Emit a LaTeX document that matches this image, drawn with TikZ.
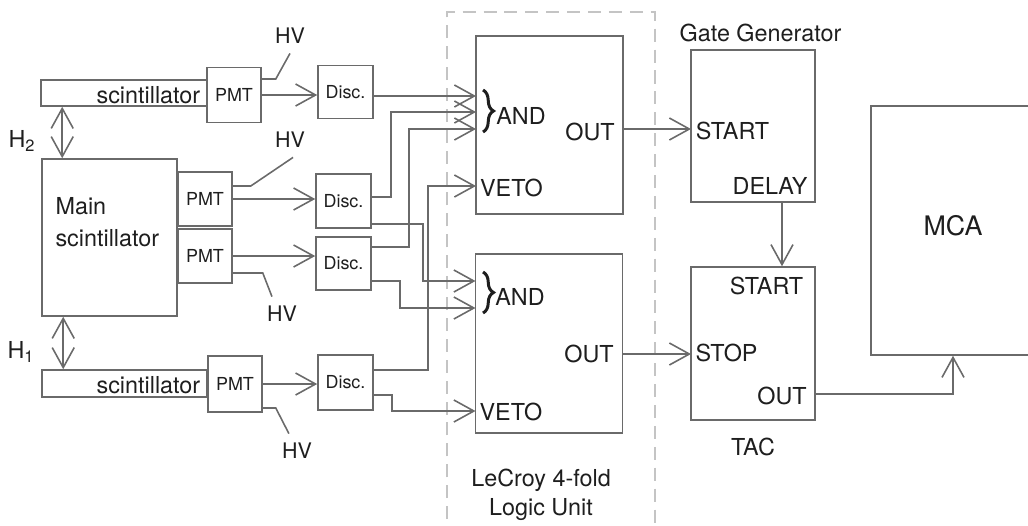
\documentclass[tikz,border=0pt]{standalone}
\usepackage{fontspec}
\setsansfont{TeX Gyre Heros}
\usetikzlibrary{arrows.meta, decorations.pathreplacing}
\definecolor{cline}{HTML}{6A6A6A}
\definecolor{ctext}{HTML}{1E1E1E}
\definecolor{cdash}{HTML}{C4C4C4}
\tikzset{
  every picture/.style={font=\sffamily, line width=0.9pt},
  unit/.style={draw=cline, text=ctext, inner sep=0pt, font=\sffamily\fontsize{10.2}{12}\selectfont},
  lbl/.style={text=ctext, inner sep=1pt, font=\sffamily\fontsize{13.3}{18.1}\selectfont},
  hv/.style={text=ctext, inner sep=5pt, font=\sffamily\fontsize{12.2}{14}\selectfont},
  sig/.style={-{Straight Barb[length=0.4cm, width=0.44cm]}, draw=cline},
  dsig/.style={{Straight Barb[length=0.4cm, width=0.44cm]}-{Straight Barb[length=0.4cm, width=0.44cm]}, draw=cline},
  wire/.style={draw=cline},
  andbrace/.style={decorate, decoration={brace, amplitude=0.21cm}, draw=ctext, line width=1.7pt},
  dashbox/.style={draw=cdash, dash pattern=on 7.4pt off 4.5pt},
}

\begin{document}
\begin{tikzpicture}[x=0.02cm, y=-0.02cm]
  \useasboundingbox (0,0) rectangle (1028,525);
  \clip (0,0) rectangle (1028,525);
  % upper scintillator
  \node[unit, minimum width=3.32cm, minimum height=0.52cm] (scinT) at (124,93) {};
  \node[lbl, anchor=base east] (scinTl) at ([shift={(-0.1cm,0.06cm)}]scinT.south east) {scintillator};
  \node[unit, minimum width=1.08cm, minimum height=1.1cm] (pmtT) at (234,95) {PMT};
  \node[unit, minimum width=1.1cm, minimum height=1.06cm] (discT) at (345.5,92) {Disc.};
  \node[hv] (hvT) at (290,36) {HV};
  % main scintillator
  \node[unit, minimum width=2.7cm, minimum height=3.14cm] (mainSc) at (109.5,237.5) {};
  \node[lbl, anchor=north west, align=left] (mainScl) at (53,195) {Main\\scintillator};
  \node[unit, minimum width=1.08cm, minimum height=1.08cm] (pmtM1) at (205,199) {PMT};
  \node[unit, minimum width=1.08cm, minimum height=1.08cm] (pmtM2) at (205,256) {PMT};
  \node[unit, minimum width=1.1cm, minimum height=1.08cm] (discM1) at (343.5,201) {Disc.};
  \node[unit, minimum width=1.1cm, minimum height=1.06cm] (discM2) at (343.5,263.5) {Disc.};
  \node[hv] (hvM1) at (290,140) {HV};
  \node[hv] (hvM2) at (282,314) {HV};
  % lower scintillator
  \node[unit, minimum width=3.3cm, minimum height=0.54cm] (scinB) at (124.5,383.5) {};
  \node[lbl, anchor=base east] (scinBl) at ([shift={(-0.1cm,0.08cm)}]scinB.south east) {scintillator};
  \node[unit, minimum width=1.08cm, minimum height=1.12cm] (pmtB) at (235,384) {PMT};
  \node[unit, minimum width=1.1cm, minimum height=1.1cm] (discB) at (345.5,382.5) {Disc.};
  \node[hv] (hvB) at (297,451) {HV};
  \node[lbl] (h2) at (22,141) {H\textsubscript{2}};
  \node[lbl] (h1) at (21,352) {H\textsubscript{1}};

  % logic unit
  \draw[dashbox] (447,540) -- (447,12) -- (655,12) -- (655,540);
  \node[unit, minimum width=2.94cm, minimum height=3.56cm] (logicA) at (549.5,125) {};
  \node[unit, minimum width=2.94cm, minimum height=3.58cm] (logicB) at (549,343.5) {};
  \node[lbl] (andA) at (521,115.5) {AND};
  \node[lbl] (outA) at (590,131.5) {OUT};
  \node[lbl] (vetoA) at (511.5,187.5) {VETO};
  \node[lbl] (andB) at (520,296.5) {AND};
  \node[lbl] (outB) at (589,354) {OUT};
  \node[lbl] (vetoB) at (511,411.5) {VETO};
  \node[lbl, anchor=north, align=center, font=\sffamily\fontsize{13.3}{17}\selectfont] (lecroy) at (541,466) {LeCroy 4-fold\\Logic Unit};
  \coordinate (andA1) at (476,96);
  \coordinate (andA2) at (476,112);
  \coordinate (andA3) at (476,129);
  \coordinate (vetoA1) at (476,186);
  \coordinate (andB1) at (475.5,281);
  \coordinate (andB2) at (475.5,308);
  \coordinate (vetoB1) at (475.5,411);
  \draw[andbrace] (483,90) -- (483,132);
  \draw[andbrace] (483,272) -- (483,313);

  % gate generator, TAC, MCA
  \node[unit, minimum width=2.48cm, minimum height=3.04cm] (gate) at (753,126) {};
  \node[lbl] (gateT) at (760.5,33) {Gate Generator};
  \node[lbl] (gStartL) at (732.5,131) {START};
  \node[lbl] (delayL) at (770,186) {DELAY};
  \node[unit, minimum width=2.48cm, minimum height=3.06cm] (tac) at (753,343.5) {};
  \node[lbl] (tStartL) at (766.5,286) {START};
  \node[lbl] (tStopL) at (726.5,353) {STOP};
  \node[lbl] (tOutL) at (782,396) {OUT};
  \node[lbl] (tacT) at (753,447) {TAC};
  \node[unit, minimum width=3.28cm, minimum height=4.98cm, text depth=5.6pt, font=\sffamily\fontsize{15.3}{18}\selectfont] (mca) at (953,230.5) {MCA};
  \coordinate (gStart) at (691,129);
  \coordinate (tStop) at (691,354);

  % PMT signals and high voltage
  \draw[sig] (pmtT.east) -- (pmtT.east -| discT.west);
  \draw[sig] (pmtM1.east) -- (pmtM1.east -| discM1.west);
  \draw[sig] (pmtM2.east) -- (pmtM2.east -| discM2.west);
  \draw[sig] (pmtB.east) -- (pmtB.east -| discB.west);
  \draw[wire] ([yshift=0.32cm]pmtT.east) -- ++(14,0) -- (hvT.south);
  \draw[wire] ([yshift=0.26cm]pmtM1.east) -- ++(18,0) -- (hvM1.-80);
  \draw[wire] ([yshift=-0.34cm]pmtM2.east) -- ++(30,0) -- (hvM2.120);
  \draw[wire] ([yshift=-0.48cm]pmtB.east) -- ++(13,0) -- (hvB.115);
  % distances
  \coordinate (h2a) at ([xshift=0.44cm]scinT.south west);
  \draw[dsig] (h2a) -- (h2a |- mainSc.north);
  \coordinate (h1a) at ([xshift=0.44cm]mainSc.south west);
  \draw[dsig] (h1a) -- (h1a |- scinB.north);
  % discriminators to logic unit
  \draw[sig] (discT.east |- andA1) -- (andA1);
  \draw[sig] ([yshift=0.08cm]discM1.east) -- ++(19,0) |- (andA2);
  \draw[sig] ([yshift=-0.46cm]discM1.east) -- ++(51,0) |- (andB1);
  \draw[sig] ([yshift=0.33cm]discM2.east) -- ++(37,0) |- (andA3);
  \draw[sig] ([yshift=-0.35cm]discM2.east) -- ++(28,0) |- (andB2);
  \draw[sig] ([yshift=0.25cm]discB.east) -- ++(54,0) |- (vetoA1);
  \draw[sig] ([yshift=-0.25cm]discB.east) -- ++(18,0) |- (vetoB1);
  % outputs
  \draw[sig] (logicA.east |- gStart) -- (gStart);
  \draw[sig] (logicB.east |- tStop) -- (tStop);
  \draw[sig] ([xshift=0.58cm]gate.south) -- ([xshift=0.58cm]tac.north);
  \draw[sig] ([yshift=-1.01cm]tac.east) -| (mca.south);
\end{tikzpicture}
\end{document}
